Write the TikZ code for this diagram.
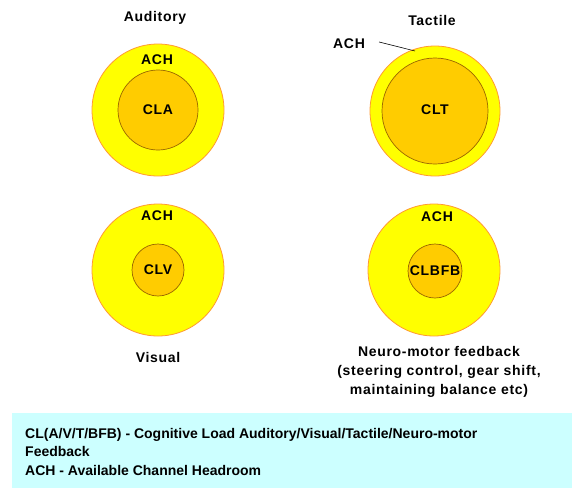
\documentclass[tikz,border=0pt]{standalone}
\usepackage{fontspec}
\setmainfont{Liberation Sans}
\newfontfamily\labelfont[LetterSpace=5]{Liberation Sans}
\definecolor{achfill}{HTML}{FFFF00}
\definecolor{achrim}{HTML}{FF9933}
\definecolor{clfill}{HTML}{FFCC00}
\definecolor{clrim}{HTML}{996600}
\definecolor{legendfill}{HTML}{CCFFFF}
\begin{document}
\begin{tikzpicture}[x=1pt,y=-1pt,
  every node/.style={font=\labelfont\bfseries\fontsize{14}{19}\selectfont, inner sep=0pt},
  outerring/.style={circle, fill=achfill, draw=achrim, line width=0.8pt},
  innerdisc/.style={circle, fill=clfill, draw=clrim, line width=0.7pt},
  caption/.style={align=center}]
\useasboundingbox (0,0) rectangle (572,488);

% Auditory channel
\draw[outerring] (158,110) circle (66);
\draw[innerdisc] (158,110) circle (40);
\node (aud) at (155,18) {Auditory};
\node (achA) at (157,60) {ACH};
\node (cla) at (158,110) {CLA};

% Tactile channel
\draw[outerring] (435,111) circle (65);
\draw[innerdisc] (435,111) circle (53);
\node (tac) at (432,20) {Tactile};
\node (achT) at (349,44) {ACH};
\node (clt) at (435,110) {CLT};
\coordinate (rimT) at (415,51);
\draw[black, line width=0.6pt] ([xshift=14pt,yshift=2pt]achT.east) -- (rimT);

% Visual channel
\draw[outerring] (158,270) circle (66);
\draw[innerdisc] (158,270) circle (26);
\node (achV) at (157,216) {ACH};
\node (clv) at (158,270) {CLV};
\node (vis) at (158,357) {Visual};

% Neuro-motor feedback channel
\draw[outerring] (434,270) circle (66);
\draw[innerdisc] (435,271) circle (27);
\node (achN) at (437,217) {ACH};
\node (clb) at (435,271) {CLBFB};
\node[caption] (neu) at (439,372) {Neuro-motor feedback\\(steering control, gear shift,\\maintaining balance etc)};

% Legend
\fill[legendfill] (12,413) rectangle (572,488);
\node[anchor=north west, align=left, font=\normalfont\bfseries\fontsize{14}{18.5}\selectfont] (legend) at (25,428)
  {CL(A/V/T/BFB) - Cognitive Load Auditory/Visual/Tactile/Neuro-motor\\Feedback\\ACH - Available Channel Headroom};
\end{tikzpicture}
\end{document}
